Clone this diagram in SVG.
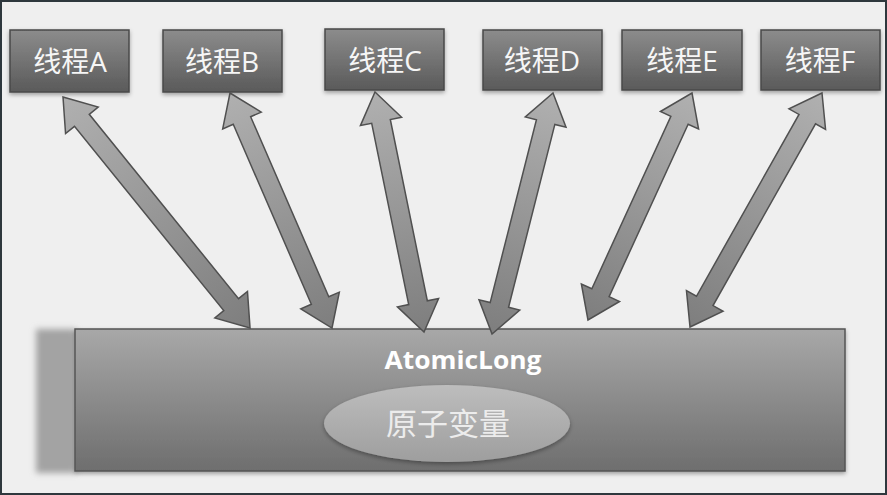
<svg xmlns="http://www.w3.org/2000/svg" width="887" height="495" viewBox="0 0 887 495">
<defs>
<linearGradient id="boxG" x1="0" y1="0" x2="0" y2="1">
<stop offset="0" stop-color="#8c8c8c"/><stop offset="1" stop-color="#5a5a5a"/>
</linearGradient>
<linearGradient id="mainG" x1="0" y1="0" x2="0" y2="1">
<stop offset="0" stop-color="#a8a8a8"/><stop offset="1" stop-color="#6e6e6e"/>
</linearGradient>
<linearGradient id="ellG" x1="0" y1="0" x2="0" y2="1">
<stop offset="0" stop-color="#bdbdbd"/><stop offset="1" stop-color="#9e9e9e"/>
</linearGradient>
<linearGradient id="arrG" x1="0" y1="0" x2="1" y2="0">
<stop offset="0" stop-color="#b0b0b0"/><stop offset="1" stop-color="#7e7e7e"/>
</linearGradient>
<filter id="blur" x="-20%" y="-20%" width="140%" height="140%"><feGaussianBlur stdDeviation="3"/></filter>
<filter id="sh" x="-20%" y="-20%" width="140%" height="140%"><feDropShadow dx="0" dy="2" stdDeviation="2" flood-color="#000" flood-opacity="0.35"/></filter>
</defs>
<style>
.box{fill:url(#boxG);stroke:#4a4a4a;stroke-width:1.5;filter:url(#sh)}
.lbl{font-family:"Open Sans","Noto Sans CJK SC",sans-serif;font-size:28px;fill:#f6f6f6;text-anchor:middle}
.arr{fill:url(#arrG);stroke:#505050;stroke-width:1.5;stroke-linejoin:miter}
</style>
<rect x="0" y="0" width="887" height="495" fill="#efefef"/>
<rect x="1" y="1" width="885" height="493" fill="none" stroke="#2e373d" stroke-width="2"/>

<g id="atomiclong">
<rect x="36" y="329" width="40" height="144" fill="#a3a3a3" filter="url(#blur)"/>
<rect x="75" y="329" width="770" height="142" fill="url(#mainG)" stroke="#555" stroke-width="1.5" filter="url(#sh)"/>
<text x="463" y="369" font-family="Open Sans, Noto Sans, sans-serif" font-weight="bold" font-size="25" fill="#ffffff" text-anchor="middle" textLength="157" lengthAdjust="spacingAndGlyphs">AtomicLong</text>
</g>
<g id="var">
<ellipse cx="447" cy="423.5" rx="123" ry="38.5" fill="url(#ellG)" filter="url(#sh)"/>
<text x="448" y="435" font-family="Noto Sans CJK SC, sans-serif" font-size="31" fill="#ececec" text-anchor="middle">原子变量</text>
</g>

<g id="threadA"><rect class="box" x="10" y="30" width="119" height="62"/><text class="lbl" x="70" y="72">线程A</text></g>
<g id="threadB"><rect class="box" x="163" y="30" width="119" height="62"/><text class="lbl" x="222" y="72">线程B</text></g>
<g id="threadC"><rect class="box" x="325" y="29" width="119" height="61"/><text class="lbl" x="385" y="71">线程C</text></g>
<g id="threadD"><rect class="box" x="483" y="30" width="119" height="60"/><text class="lbl" x="542" y="71">线程D</text></g>
<g id="threadE"><rect class="box" x="622" y="30" width="120" height="60"/><text class="lbl" x="682" y="71">线程E</text></g>
<g id="threadF"><rect class="box" x="761" y="30" width="119" height="60"/><text class="lbl" x="820" y="71">线程F</text></g>

<g id="connectors">
<g transform="translate(63,97) rotate(51.0)"><polygon class="arr" points="0,0 30,-21 30,-9.5 267.2,-9.5 267.2,-21 297.2,0 267.2,21 267.2,9.5 30,9.5 30,21"/></g>
<g transform="translate(230,93) rotate(66.54)"><polygon class="arr" points="0,0 30,-21 30,-9.5 226.2,-9.5 226.2,-21 256.2,0 226.2,21 226.2,9.5 30,9.5 30,21"/></g>
<g transform="translate(375,92) rotate(78.46)"><polygon class="arr" points="0,0 30,-21 30,-9.5 215,-9.5 215,-21 245,0 215,21 215,9.5 30,9.5 30,21"/></g>
<g transform="translate(553,93) rotate(104.2)"><polygon class="arr" points="0,0 30,-21 30,-9.5 218.6,-9.5 218.6,-21 248.6,0 218.6,21 218.6,9.5 30,9.5 30,21"/></g>
<g transform="translate(692,93) rotate(114.62)"><polygon class="arr" points="0,0 30,-21 30,-9.5 219.7,-9.5 219.7,-21 249.7,0 219.7,21 219.7,9.5 30,9.5 30,21"/></g>
<g transform="translate(822,93) rotate(119.42)"><polygon class="arr" points="0,0 30,-21 30,-9.5 238.7,-9.5 238.7,-21 268.7,0 238.7,21 238.7,9.5 30,9.5 30,21"/></g>
</g>
</svg>
